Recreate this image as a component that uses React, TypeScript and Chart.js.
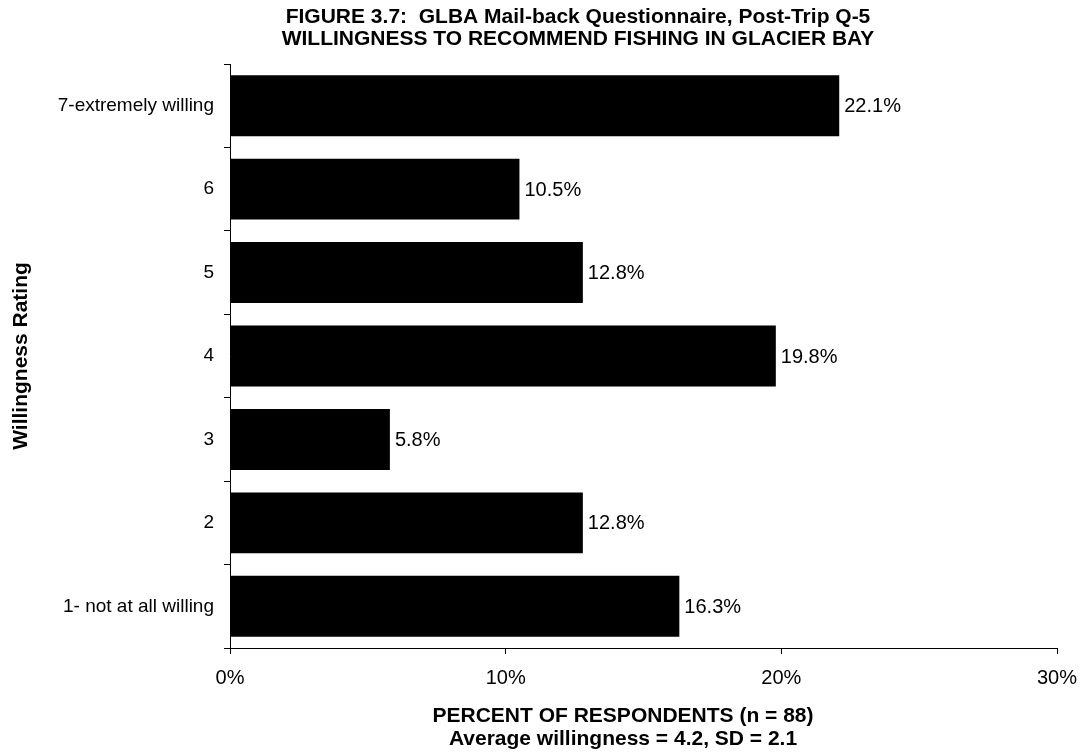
import React, { useEffect, useRef } from "react";
import { Chart, registerables } from "chart.js";

Chart.register(...registerables);

const categories = [
  "7-extremely willing",
  "6",
  "5",
  "4",
  "3",
  "2",
  "1- not at all willing",
];
const percentages = [22.1, 10.5, 12.8, 19.8, 5.8, 12.8, 16.3];
const xTickValues = [0, 10, 20, 30];
const titleLines = [
  "FIGURE 3.7:  GLBA Mail-back Questionnaire, Post-Trip Q-5",
  "WILLINGNESS TO RECOMMEND FISHING IN GLACIER BAY",
];
const xTitleLines = [
  "PERCENT OF RESPONDENTS (n = 88)",
  "Average willingness = 4.2, SD = 2.1",
];
const yTitle = "Willingness Rating";

const FONT = "'Liberation Sans', Arial, Helvetica, sans-serif";
const W = 1081;
const H = 754;

const textPlugin = {
  id: "customText",
  afterDraw(chart: any) {
    const ctx = chart.ctx;
    ctx.save();
    ctx.fillStyle = "#000";
    // title
    ctx.font = `bold 21px ${FONT}`;
    ctx.textAlign = "center";
    ctx.textBaseline = "middle";
    ctx.fillText(titleLines[0], 578, 17);
    ctx.fillText(titleLines[1], 578, 39);
    // x-axis title
    ctx.fillText(xTitleLines[0], 623, 716);
    ctx.fillText(xTitleLines[1], 623, 739);
    // data labels
    ctx.font = `20px ${FONT}`;
    ctx.textAlign = "left";
    const meta = chart.getDatasetMeta(0);
    meta.data.forEach((bar: any, i: number) => {
      ctx.fillText(percentages[i].toFixed(1) + "%", bar.x + 5, bar.y + 1);
    });
    ctx.restore();
  },
};

export default function App() {
  const ref = useRef<HTMLCanvasElement | null>(null);
  useEffect(() => {
    if (!ref.current) return;
    const chart = new Chart(ref.current, {
      type: "bar",
      data: {
        labels: categories,
        datasets: [
          {
            data: percentages,
            backgroundColor: "#000",
            borderWidth: 0,
            barPercentage: 0.73,
            categoryPercentage: 1,
          },
        ],
      },
      options: {
        indexAxis: "y",
        animation: false,
        responsive: false,
        maintainAspectRatio: false,
        layout: { padding: { top: 64, right: 24, left: 0, bottom: 0 } },
        plugins: {
          legend: { display: false },
          tooltip: { enabled: false },
          title: { display: false },
        },
        scales: {
          x: {
            min: 0,
            max: 30,
            afterBuildTicks: (scale: any) => {
              scale.ticks = xTickValues.map((v) => ({ value: v }));
            },
            ticks: {
              callback: (v: any) => v + "%",
              color: "#000",
              font: { family: FONT, size: 20 },
              padding: 12,
              maxRotation: 0,
            },
            grid: {
              drawOnChartArea: false,
              tickLength: 6,
              color: "#000",
            },
            border: { color: "#000" },
            afterFit: (s: any) => {
              s.height = 106;
              s.paddingRight = 0;
              s.paddingLeft = 0;
            },
          },
          y: {
            ticks: {
              color: "#000",
              font: { family: FONT, size: 19 },
              padding: 10,
            },
            grid: {
              drawOnChartArea: false,
              tickLength: 6,
              color: "#000",
              offset: true,
            },
            border: { color: "#000" },
            title: {
              display: true,
              text: yTitle,
              color: "#000",
              font: { family: FONT, size: 21, weight: "bold" },
              padding: { top: 9, bottom: 0 },
            },
            afterFit: (s: any) => {
              s.width = 230;
            },
          },
        },
      },
      plugins: [textPlugin],
    } as any);
    return () => chart.destroy();
  }, []);
  return (
    <div style={{ position: "absolute", left: 0, top: 0, width: W, height: H, background: "#fff" }}>
      <canvas ref={ref} width={W} height={H} style={{ display: "block" }} />
    </div>
  );
}
